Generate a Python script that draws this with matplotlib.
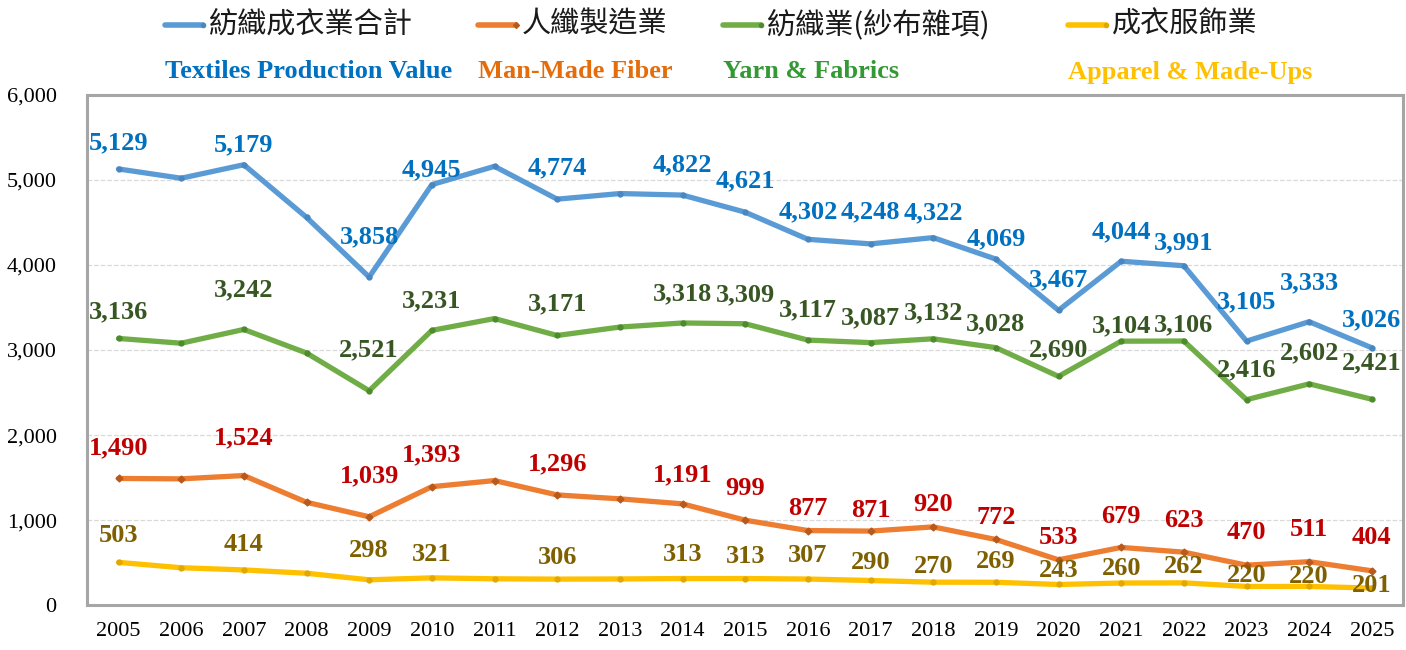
import matplotlib.pyplot as plt
from matplotlib.lines import Line2D
from matplotlib.ticker import FuncFormatter, MultipleLocator

years = [str(y) for y in range(2005, 2026)]

total = [5129, 5020, 5179, 4560, 3858, 4945, 5160, 4774, 4840, 4822, 4621,
         4302, 4248, 4322, 4069, 3467, 4044, 3991, 3105, 3333, 3026]
yarn = [3136, 3080, 3242, 2965, 2521, 3231, 3370, 3171, 3270, 3318, 3309,
        3117, 3087, 3132, 3028, 2690, 3104, 3106, 2416, 2602, 2421]
mmf = [1490, 1485, 1524, 1210, 1039, 1393, 1465, 1296, 1250, 1191, 999,
       877, 871, 920, 772, 533, 679, 623, 470, 511, 404]
apparel = [503, 440, 414, 375, 298, 321, 310, 306, 308, 313, 313,
           307, 290, 270, 269, 243, 260, 262, 220, 220, 201]

# years without a value label in the original
unlabeled = {"2006", "2008", "2011", "2013"}

names_zh = ["紡織成衣業合計", "人纖製造業", "紡織業(紗布雜項)", "成衣服飾業"]
names_en = ["Textiles Production Value", "Man-Made Fiber", "Yarn & Fabrics",
            "Apparel & Made-Ups"]

# vertical label offsets in pixels (style only, copied from the original layout)
dy_total = [26, 0, 20, 0, 40, 15, 0, 31, 0, 30, 31, 27, 32, 25, 20, 30, 29, 23, 39, 39, 28]
dy_mmf = [31, 0, 38, 0, 41, 32, 0, 31, 0, 29, 32, 22, 21, 22, 22, 22, 31, 32, 33, 32, 33]
dy_yarn = [27, 0, 40, 0, 41, 30, 0, 32, 0, 29, 29, 30, 25, 26, 24, 27, 15, 16, 30, 31, 36]
dy_app = [27, 0, 25, 0, 29, 23, 0, 22, 0, 24, 22, 24, 18, 16, 21, 14, 15, 16, 11, 10, 3]

SERIF = "Liberation Serif"
CJK = ["Noto Sans CJK TC", "DejaVu Sans"]

series = [
    # values, line colour, marker colour, label colour, marker, english colour, offsets
    (total, "#5B9BD5", "#4A86C0", "#0070C0", "o", "#0070C0", dy_total),
    (mmf, "#ED7D31", "#B85A1C", "#C00000", "D", "#E46C0A", dy_mmf),
    (yarn, "#70AD47", "#4E8A2E", "#375623", "o", "#339933", dy_yarn),
    (apparel, "#FFC000", "#E0A800", "#7F6000", "o", "#FFC000", dy_app),
]

fig = plt.figure(figsize=(14.06, 6.5), dpi=100)
ax = fig.add_axes([0.062, 0.069, 0.936, 0.785])

x = list(range(len(years)))
for vals, lc, mc, tc, mk, _, dys in series:
    ax.plot(x, vals, color=lc, lw=3.8, solid_capstyle="round",
            marker=mk, ms=3.5, mfc=mc, mec=mc, zorder=3)
    for xi, yr, v, dy in zip(x, years, vals, dys):
        if yr in unlabeled:
            continue
        ax.annotate(f"{v:,}", (xi, v), xytext=(0, dy), textcoords="offset pixels",
                    ha="center", va="center", fontsize=19, fontweight="bold",
                    fontfamily=SERIF, color=tc, zorder=4, annotation_clip=False)

ax.set_xlim(-0.5, len(years) - 0.5)
ax.set_ylim(0, 6000)
ax.set_xticks(x)
ax.set_xticklabels(years)
ax.yaxis.set_major_locator(MultipleLocator(1000))
ax.yaxis.set_major_formatter(FuncFormatter(lambda v, p: f"{int(v):,}"))
ax.tick_params(length=0, labelsize=16, pad=12)
for lab in ax.get_xticklabels() + ax.get_yticklabels():
    lab.set_fontfamily(SERIF)
ax.tick_params(axis="y", pad=22)
ax.grid(axis="y", color="#D9D9D9", ls="--", lw=0.9)
ax.set_axisbelow(True)
for sp in ax.spines.values():
    sp.set_color("#A6A6A6")
    sp.set_linewidth(2.2)

# legend row and english captions
line_x = [165, 478, 723, 1068]
W, H = 1406, 650
for (vals, lc, mc, tc, mk, ec, _), lx, zh, en in zip(series, line_x, names_zh, names_en):
    fig.add_artist(Line2D([lx / W, (lx + 38) / W], [1 - 25 / H] * 2, color=lc,
                          lw=4, marker=mk, markevery=[1], ms=3, mfc=mc, mec=mc,
                          transform=fig.transFigure, solid_capstyle="round"))
    fig.text((lx + 44) / W, 1 - 25 / H, zh, fontsize=21, fontfamily=CJK,
             color="#1A1A1A", ha="left", va="center")
    fig.text(lx / W, 1 - 72 / H, en, fontsize=19, fontweight="bold",
             fontfamily=SERIF, color=ec, ha="left", va="center")

fig.savefig("out.png", dpi=100)
